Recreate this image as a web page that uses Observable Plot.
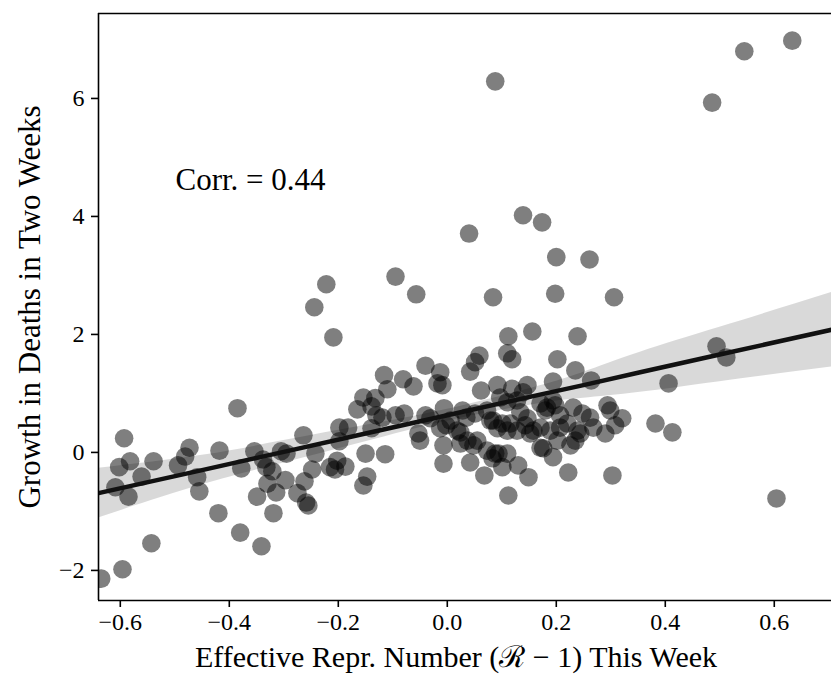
<!DOCTYPE html>
<html>
<head>
<meta charset="utf-8">
<script src="https://cdn.jsdelivr.net/npm/d3@7"></script>
<script src="https://cdn.jsdelivr.net/npm/@observablehq/plot@0.6"></script>
<style>
  html, body { margin: 0; padding: 0; background: white; }
  #chart { width: 831px; height: 689px; }
</style>
</head>
<body>
<div id="chart"></div>
<script>
// Effective reproduction number (R - 1) this week
const xs = [
  -0.635,-0.596,-0.543,-0.593,-0.602,-0.582,-0.609,-0.585,-0.561,-0.539,
  -0.494,-0.481,-0.473,-0.459,-0.455,-0.418,-0.385,-0.420,-0.380,-0.341,
  -0.378,-0.354,-0.338,-0.332,-0.321,-0.330,-0.349,-0.314,-0.319,-0.297,
  -0.295,-0.264,-0.262,-0.275,-0.259,-0.255,-0.248,-0.242,-0.215,-0.206,
  -0.187,-0.198,-0.182,-0.198,-0.165,-0.154,-0.150,-0.154,-0.147,-0.305,
  -0.202,-0.132,-0.139,-0.130,-0.119,-0.116,-0.081,-0.062,-0.110,-0.095,
  -0.079,-0.040,-0.031,-0.013,-0.018,-0.009,-0.006,-0.013,-0.053,-0.050,
  -0.007,-0.139,-0.114,-0.040,0.112,0.156,0.239,0.059,0.051,0.110,
  0.119,0.202,0.042,0.235,0.264,0.194,0.062,0.092,0.119,0.147,
  -0.002,-0.007,0.028,0.035,0.051,0.073,0.084,0.092,0.097,0.110,
  0.128,0.134,0.147,0.171,0.180,0.194,0.207,0.207,0.189,0.171,
  0.158,0.128,0.116,0.110,0.231,0.248,0.262,0.268,0.239,0.235,
  0.226,0.294,0.299,0.321,0.308,0.290,0.024,0.037,0.048,0.024,
  0.042,0.083,0.088,0.110,0.101,0.068,0.112,0.149,0.176,0.194,
  0.222,0.303,0.139,0.183,0.198,0.220,0.244,0.006,0.018,0.055,
  0.079,0.101,0.143,0.152,0.073,0.094,0.171,0.202,0.130,0.139,
  0.174,0.040,0.200,0.261,-0.095,-0.057,0.084,0.198,0.306,-0.244,
  -0.209,-0.222,0.494,0.512,0.406,0.382,0.413,0.604,0.633,0.545,
  0.486,0.088
];
// Growth in deaths in two weeks
const ys = [
  -2.14,-1.98,-1.54,0.24,-0.25,-0.15,-0.59,-0.75,-0.41,-0.15,
  -0.22,-0.07,0.08,-0.42,-0.66,0.03,0.75,-1.03,-1.36,-1.59,
  -0.27,0.02,-0.12,-0.25,-0.32,-0.53,-0.75,-0.68,-1.03,-0.47,
  -0.02,0.29,-0.49,-0.69,-0.85,-0.90,-0.29,-0.02,-0.25,-0.29,
  -0.24,0.42,0.42,0.19,0.73,0.93,-0.02,-0.56,-0.41,0.02,
  -0.14,0.92,0.78,0.63,0.59,1.31,1.24,1.12,1.07,0.63,
  0.66,0.63,0.58,1.36,1.17,1.14,0.75,0.41,0.32,0.20,
  -0.19,0.41,-0.03,1.47,1.97,2.05,1.97,1.64,1.53,1.68,
  1.58,1.58,1.37,1.39,1.22,1.20,1.05,1.14,1.08,1.14,
  0.46,0.12,0.71,0.59,0.66,0.71,0.54,0.41,0.93,0.85,
  0.88,0.68,0.58,0.83,0.71,0.88,0.63,0.42,0.37,0.42,
  0.37,0.37,0.49,0.37,0.76,0.66,0.59,0.42,0.37,0.20,
  0.12,0.80,0.71,0.58,0.46,0.32,0.34,0.20,0.12,0.15,
  -0.17,-0.10,-0.02,-0.02,-0.25,-0.39,-0.73,-0.42,0.07,-0.08,
  -0.34,-0.39,1.02,0.76,0.80,0.49,0.32,0.54,0.37,0.20,
  0.54,0.49,0.46,0.32,0.03,-0.02,0.08,0.20,-0.22,4.02,
  3.90,3.71,3.31,3.27,2.98,2.68,2.63,2.69,2.63,2.46,
  1.95,2.85,1.80,1.61,1.17,0.49,0.34,-0.78,6.98,6.80,
  5.93,6.29
];

// Fitted regression line and its confidence band
const bandX   = [-0.64, -0.45, -0.30, -0.15, 0.00, 0.17, 0.25, 0.354, 0.50, 0.705];
const bandFit = [-0.69, -0.30,  0.01,  0.32, 0.63, 0.98, 1.14, 1.36,  1.66, 2.08];
const bandLo  = [-1.11, -0.55, -0.18,  0.18, 0.53, 0.83, 0.92, 1.02,  1.20, 1.45];
const bandHi  = [-0.27, -0.05,  0.20,  0.46, 0.73, 1.13, 1.36, 1.70,  2.12, 2.71];

const xTicks = [-0.6, -0.4, -0.2, 0.0, 0.2, 0.4, 0.6];
const yTicks = [-2, 0, 2, 4, 6];
const xDomain = [-0.640, 0.705];
const yDomain = [-2.51, 7.44];
const xLabel = "Effective Repr. Number (\u211B \u2212 1) This Week";
const yLabel = "Growth in Deaths in Two Weeks";
const corrLabel = "Corr. = 0.44";

const points = xs.map((x, i) => ({x, y: ys[i]}));
const band = bandX.map((x, i) => ({x, fit: bandFit[i], lo: bandLo[i], hi: bandHi[i]}));

const font = "'Liberation Serif', 'DejaVu Serif', serif";

const chart = Plot.plot({
  width: 831,
  height: 689,
  marginLeft: 98,
  marginRight: 0,
  marginTop: 13,
  marginBottom: 89,
  style: {fontFamily: font, fontSize: "24px", color: "black", background: "white", overflow: "visible"},
  x: {domain: xDomain},
  y: {domain: yDomain},
  marks: [
    Plot.areaY(band, {x: "x", y1: "lo", y2: "hi", curve: "natural", fill: "black", fillOpacity: 0.15, clip: true}),
    Plot.dot(points, {x: "x", y: "y", r: 9.3, fill: "black", fillOpacity: 0.5, stroke: "none", clip: true}),
    Plot.line(band, {x: "x", y: "fit", stroke: "#111", strokeWidth: 4.5, clip: true}),
    Plot.axisX({ticks: xTicks, tickFormat: d3.format(".1f"), tickSize: 7, tickPadding: 5, strokeWidth: 1.6, fontSize: 24, label: null}),
    Plot.axisY({ticks: yTicks, tickFormat: d3.format("d"), tickSize: 7, tickPadding: 7, strokeWidth: 1.6, fontSize: 24, label: null}),
    Plot.ruleX([xDomain[0]], {stroke: "black", strokeWidth: 1.6}),
    Plot.ruleY([yDomain[0]], {stroke: "black", strokeWidth: 1.6}),
    Plot.ruleY([yDomain[1]], {stroke: "black", strokeWidth: 1.6}),
    Plot.text([xLabel], {text: d => d, frameAnchor: "bottom", dy: 66, dx: -9, fontSize: 30, fill: "black"}),
    Plot.text([yLabel], {text: d => d, frameAnchor: "left", dx: -68, rotate: -90, textAnchor: "middle", fontSize: 31, fill: "black"}),
    Plot.text([corrLabel], {text: d => d, frameAnchor: "top-left", dx: 77, dy: 167, textAnchor: "start", lineAnchor: "middle", fontSize: 31, fill: "black"})
  ]
});
document.getElementById("chart").appendChild(chart);
</script>
</body>
</html>
